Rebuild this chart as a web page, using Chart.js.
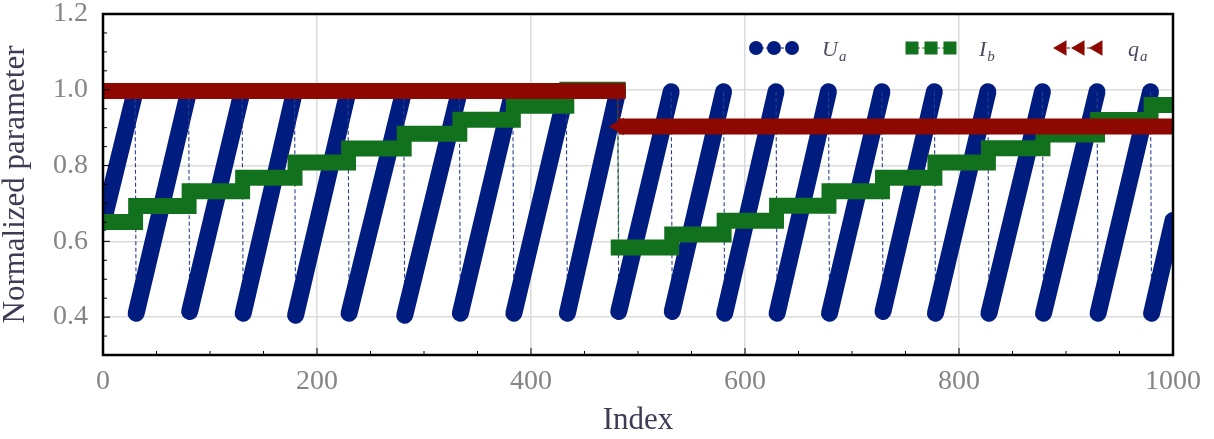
<!DOCTYPE html>
<html>
<head>
<meta charset="utf-8">
<script src="https://cdn.jsdelivr.net/npm/chart.js@4"></script>
<style>
  body { margin: 0; background: #fff; }
</style>
</head>
<body>
<canvas id="myChart" width="1214" height="439"></canvas>
<script>
// index positions where the sawtooth / steps change (shared by U_a and I_b)
const idx = [0, 30, 31, 80, 81, 130, 131, 179, 180, 229, 230, 281, 282, 333, 334, 383, 384, 433, 434, 481,
  482, 531, 532, 580, 581, 629, 630, 678, 679, 728, 729, 777, 778, 827, 828, 878, 879, 929, 930, 979, 980, 1000];

const uA = [0.65,
  0.995, 0.41, 0.995, 0.415, 0.995, 0.41, 0.995, 0.405, 0.995, 0.41,
  0.995, 0.405, 0.995, 0.41, 0.995, 0.41, 0.995, 0.41, 0.995, 0.415,
  0.995, 0.415, 0.995, 0.41, 0.995, 0.41, 0.995, 0.41, 0.995, 0.415,
  0.995, 0.41, 0.995, 0.41, 0.995, 0.41, 0.995, 0.41, 0.995, 0.41,
  0.655];

const iB = [0.651, 0.651, 0.693, 0.693, 0.732, 0.732, 0.768, 0.768, 0.808, 0.808,
  0.845, 0.845, 0.884, 0.884, 0.921, 0.921, 0.958, 0.958, 1.0, 1.0,
  0.584, 0.584, 0.618, 0.618, 0.654, 0.654, 0.694, 0.694, 0.732, 0.732,
  0.768, 0.768, 0.808, 0.808, 0.846, 0.846, 0.882, 0.882, 0.92, 0.92,
  0.96, 0.96];

const qIdx = [0, 481, 482, 1000];
const qA = [0.997, 0.997, 0.903, 0.903];

const xTicks = [0, 200, 400, 600, 800, 1000];
const yTicks = [0.4, 0.6, 0.8, 1.0, 1.2];

const blue = '#001c7f', green = '#12711c', red = '#8c0800';

const pts = (xs, ys) => xs.map((x, i) => ({x: x, y: ys[i]}));
const jump = c => c.p0.parsed.y !== c.p1.parsed.y;   // step change
const fall = c => c.p0.parsed.y > c.p1.parsed.y;     // sawtooth reset

Chart.defaults.font.family = '"Liberation Serif", serif';

// inward ticks + black frame
const frame = {
  id: 'frame',
  afterDraw(chart) {
    const {ctx, chartArea: a, scales: {x, y}} = chart;
    ctx.save();
    ctx.strokeStyle = '#000';
    ctx.lineWidth = 1;
    for (let v = 0; v <= 1000; v += 50) {
      const px = x.getPixelForValue(v);
      const len = v % 200 === 0 ? 7 : 4;
      ctx.beginPath(); ctx.moveTo(px, a.bottom); ctx.lineTo(px, a.bottom - len); ctx.stroke();
    }
    for (let i = 0; i <= 18; i++) {
      const v = 0.3 + i * 0.05;
      const py = y.getPixelForValue(v);
      const len = (i % 4 === 2) ? 7 : 4;
      ctx.beginPath(); ctx.moveTo(a.left, py); ctx.lineTo(a.left + len, py); ctx.stroke();
    }
    ctx.lineWidth = 2.5;
    ctx.strokeRect(a.left, a.top, a.right - a.left, a.bottom - a.top);
    ctx.restore();
  }
};

function subText(ctx, x, y, main, sub) {
  ctx.fillStyle = '#4a4a60';
  ctx.font = 'italic 22px "Liberation Serif"';
  ctx.fillText(main, x, y);
  const w = ctx.measureText(main).width;
  ctx.font = 'italic 15px "Liberation Serif"';
  ctx.fillText(sub, x + w + 1, y + 5);
}

const legend = {
  id: 'legendMarks',
  afterDraw(chart) {
    const ctx = chart.ctx;
    const ly = 48;
    ctx.save();
    // U_a
    ctx.strokeStyle = blue; ctx.lineWidth = 1; ctx.setLineDash([3, 2]);
    ctx.beginPath(); ctx.moveTo(756, ly); ctx.lineTo(792, ly); ctx.stroke();
    ctx.setLineDash([]);
    ctx.fillStyle = blue;
    [756, 774, 792].forEach(cx => { ctx.beginPath(); ctx.arc(cx, ly, 7, 0, Math.PI * 2); ctx.fill(); });
    subText(ctx, 822, 56, 'U', 'a');
    // I_b
    ctx.strokeStyle = green; ctx.setLineDash([3, 2]);
    ctx.beginPath(); ctx.moveTo(912, ly); ctx.lineTo(950, ly); ctx.stroke();
    ctx.setLineDash([]);
    ctx.fillStyle = green;
    [912, 931, 950].forEach(cx => ctx.fillRect(cx - 6.5, ly - 6.5, 13, 13));
    subText(ctx, 979, 56, 'I', 'b');
    // q_a
    ctx.strokeStyle = red; ctx.setLineDash([3, 2]);
    ctx.beginPath(); ctx.moveTo(1062, ly); ctx.lineTo(1098, ly); ctx.stroke();
    ctx.setLineDash([]);
    ctx.fillStyle = red;
    [1062, 1080, 1098].forEach(cx => {
      const r = 9;
      ctx.beginPath();
      ctx.moveTo(cx - r, ly);
      ctx.lineTo(cx + r / 2, ly - r * 0.866);
      ctx.lineTo(cx + r / 2, ly + r * 0.866);
      ctx.closePath(); ctx.fill();
    });
    subText(ctx, 1128, 56, 'q', 'a');
    ctx.restore();
  }
};

new Chart(document.getElementById('myChart'), {
  type: 'line',
  data: {
    datasets: [{
      label: 'U_a',
      data: pts(idx, uA),
      order: 3,
      clip: 0,
      pointRadius: 0,
      borderColor: blue,
      borderWidth: 17,
      segment: {
        borderWidth: c => fall(c) ? 1.1 : 17,
        borderDash: c => fall(c) ? [4, 2.5] : [],
        borderColor: c => fall(c) ? '#2b3f8f' : blue,
        borderCapStyle: c => fall(c) ? 'butt' : 'round'
      }
    }, {
      label: 'I_b',
      data: pts(idx, iB),
      order: 2,
      clip: 0,
      pointRadius: 0,
      borderColor: green,
      borderWidth: 16,
      segment: {
        borderWidth: c => jump(c) ? 1.1 : 16,
        borderDash: c => jump(c) ? [4, 2.5] : [],
        borderCapStyle: c => jump(c) ? 'butt' : 'square'
      }
    }, {
      label: 'q_a',
      data: pts(qIdx, qA),
      order: 1,
      clip: 0,
      borderColor: red,
      backgroundColor: red,
      borderWidth: 16,
      pointStyle: 'triangle',
      pointRotation: -90,
      pointBorderWidth: 0,
      pointRadius: c => (c.dataIndex > 0 && qA[c.dataIndex] !== qA[c.dataIndex - 1]) ? 10 : 0,
      segment: {
        borderWidth: c => jump(c) ? 1.1 : 16,
        borderDash: c => jump(c) ? [4, 2.5] : [],
        borderCapStyle: c => jump(c) ? 'butt' : (c.p0.parsed.y > 0.95 ? 'square' : 'butt')
      }
    }]
  },
  options: {
    responsive: false,
    animation: false,
    events: [],
    layout: { padding: { top: 14, right: 41, left: 0, bottom: 0 } },
    plugins: {
      legend: { display: false },
      tooltip: { enabled: false }
    },
    scales: {
      x: {
        type: 'linear',
        min: 0,
        max: 1000,
        afterBuildTicks: s => { s.ticks = xTicks.map(v => ({value: v})); },
        afterFit: s => { s.height = 84; s.paddingLeft = 0; s.paddingRight = 0; },
        ticks: { color: '#858585', font: { size: 28 }, padding: 10, maxRotation: 0, callback: v => String(v) },
        grid: { color: '#dcdcdc', lineWidth: 1.6, drawTicks: false },
        border: { display: false },
        title: {
          display: true, text: 'Index', color: '#3c3c54',
          font: { size: 31, lineHeight: 1 }, padding: { top: 0, bottom: 3 }
        }
      },
      y: {
        min: 0.3,
        max: 1.2,
        afterBuildTicks: s => { s.ticks = yTicks.map(v => ({value: v})); },
        afterFit: s => { s.width = 103; s.paddingTop = 0; s.paddingBottom = 0; },
        ticks: { color: '#858585', font: { size: 28 }, padding: 15, callback: v => v.toFixed(1) },
        grid: { color: '#dcdcdc', lineWidth: 1.6, drawTicks: false },
        border: { display: false },
        title: {
          display: true, text: 'Normalized parameter', color: '#3c3c54',
          font: { size: 31, lineHeight: 1 }, padding: { top: 0, bottom: 0 }
        }
      }
    }
  },
  plugins: [frame, legend]
});
</script>
</body>
</html>
